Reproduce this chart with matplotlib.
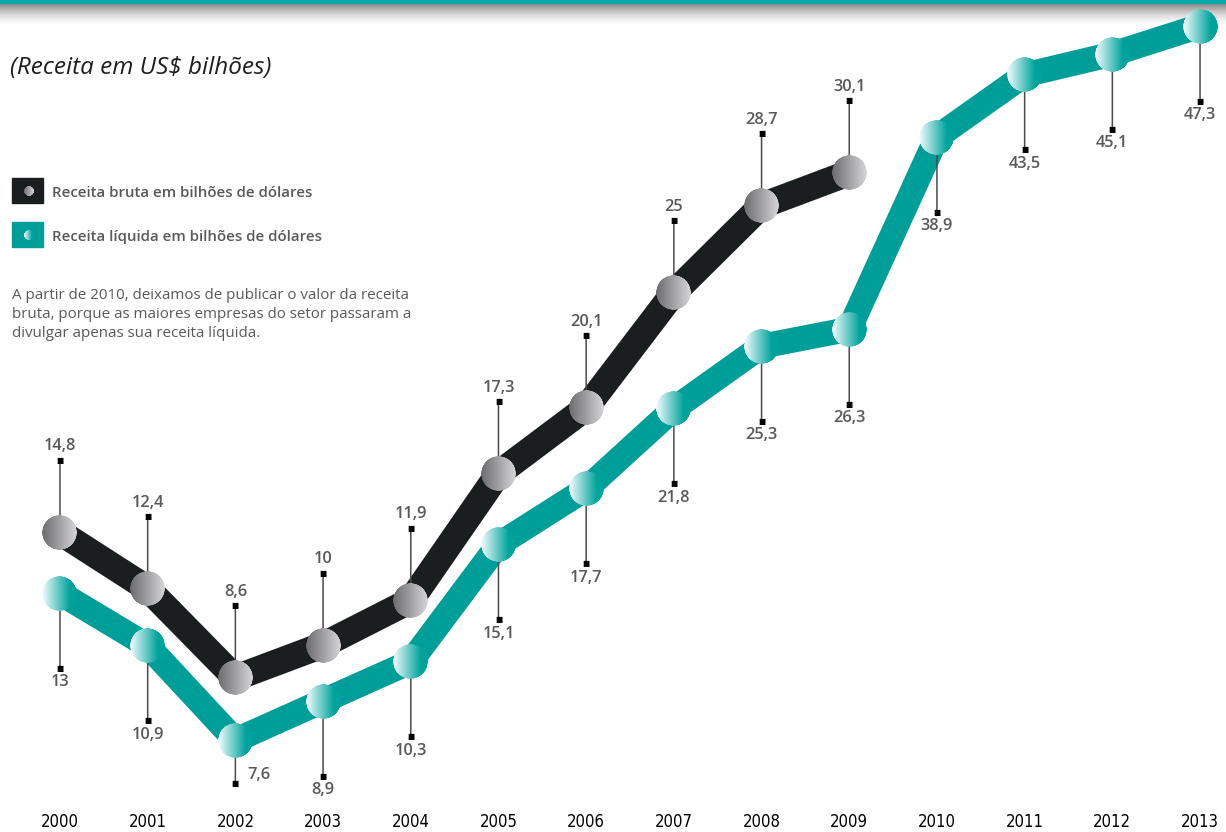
import numpy as np
import matplotlib.pyplot as plt
from matplotlib.colors import to_rgb
from matplotlib.offsetbox import OffsetImage, AnnotationBbox

# Receita bruta (até 2009) e líquida (até 2013), em US$ bilhões
anos_bruta = [2000, 2001, 2002, 2003, 2004, 2005, 2006, 2007, 2008, 2009]
receita_bruta = [14.8, 12.4, 8.6, 10, 11.9, 17.3, 20.1, 25, 28.7, 30.1]

anos_liquida = [2000, 2001, 2002, 2003, 2004, 2005, 2006, 2007, 2008, 2009,
                2010, 2011, 2012, 2013]
receita_liquida = [13, 10.9, 7.6, 8.9, 10.3, 15.1, 17.7, 21.8, 25.3, 26.3,
                   38.9, 43.5, 45.1, 47.3]

titulo = '(Receita em US$ bilhões)'
legenda_bruta = 'Receita bruta em bilhões de dólares'
legenda_liquida = 'Receita líquida em bilhões de dólares'
nota = ('A partir de 2010, deixamos de publicar o valor da receita\n'
        'bruta, porque as maiores empresas do setor passaram a\n'
        'divulgar apenas sua receita líquida.')

W, H = 1226, 832
COR_BRUTA = '#1b1e1f'
COR_LIQUIDA = '#009e99'
COR_TEXTO = '#58595b'
FONTE = ['Open Sans', 'DejaVu Sans']


def fx(px):
    return px / W


def fy(py):
    return 1 - py / H


def disco(c_esq, c_dir, n=140, fim=0.85):
    # circulo com degradê horizontal e borda suavizada
    xx, yy = np.meshgrid(np.linspace(-1, 1, n), np.linspace(-1, 1, n))
    t = np.clip((xx + 1) / (2 * fim), 0, 1)[..., None]
    rgb = np.array(to_rgb(c_esq)) * (1 - t) + np.array(to_rgb(c_dir)) * t
    alfa = np.clip((1 - np.hypot(xx, yy)) * n / 2, 0, 1)
    return np.dstack([rgb, alfa])


img_bruta = disco('#6c6c6f', '#d6d6d8', fim=1.0)
img_liquida = disco('#f4fcff', '#00a39c', fim=0.8)

fig = plt.figure(figsize=(W / 100, H / 100), dpi=100)


def bolinha(eixo, x, y, img, diam, coords='data'):
    zoom = diam / (img.shape[0] * fig.dpi / 72)
    ab = AnnotationBbox(OffsetImage(img, zoom=zoom), (x, y), xycoords=coords,
                        frameon=False, pad=0, zorder=5, annotation_clip=False)
    eixo.add_artist(ab)


def rotulo(eixo, x, v, dy, dx_txt=0, lado='center'):
    txt = f'{v:g}'.replace('.', ',')
    eixo.annotate('', xy=(x, v), xytext=(0, dy), textcoords='offset pixels',
                  arrowprops=dict(arrowstyle='-', color='#4a4a4a', lw=1.1,
                                  shrinkA=0, shrinkB=0), zorder=3)
    sinal = 1 if dy > 0 else -1
    eixo.annotate('\u25A0', xy=(x, v), xytext=(0, dy), textcoords='offset pixels',
                  ha='center', va='center', fontsize=5.5, color='black',
                  family='DejaVu Sans', zorder=4)
    if lado == 'center':
        eixo.annotate(txt, xy=(x, v), xytext=(0, dy + sinal * 6),
                      textcoords='offset pixels', ha='center',
                      va='bottom' if sinal > 0 else 'top', fontsize=11.8,
                      fontweight='semibold', color=COR_TEXTO, family=FONTE,
                      zorder=6)
    else:
        eixo.annotate(txt, xy=(x, v), xytext=(dx_txt, dy + 8),
                      textcoords='offset pixels', ha='left', va='center',
                      fontsize=11.8, fontweight='semibold', color=COR_TEXTO,
                      family=FONTE, zorder=6)


# faixa superior: linha verde com sombra cinza
faixa = fig.add_axes([0, fy(26), 1, 26 / H])
linhas = np.linspace(0, 1, 22)
cinza = 1 - 0.45 * (1 - linhas) ** 1.6
grad = np.vstack([np.tile(to_rgb('#0aa9a9'), (4, 1)),
                  np.column_stack([cinza, cinza, cinza])])[:, None, :]
faixa.imshow(grad, aspect='auto', interpolation='bilinear')
faixa.set_axis_off()

# eixo principal: receita líquida (escala raiz) e eixo gêmeo para a bruta
ax = fig.add_axes([0, 27 / H, 1, 805 / H])
ax.patch.set_visible(False)
ax.set_xlim(1999.316, 2013.296)
ax.set_yscale('function', functions=(np.sqrt, np.square))
ax.set_ylim(5.68, 49.39)

ax2 = ax.twinx()
ax2.set_ylim(3.19, 37.46)

for a in (ax, ax2):
    for s in a.spines.values():
        s.set_visible(False)
    a.set_yticks([])

ax.set_xticks(anos_liquida)
ax.set_xticklabels([str(a) for a in anos_liquida], family='DejaVu Sans',
                   fontstretch='condensed', fontweight='normal',
                   fontsize=12, color='#000000')
ax.tick_params(axis='x', length=0, pad=5.5)

# linha líquida
ax.plot(anos_liquida, receita_liquida, color=COR_LIQUIDA, lw=18,
        solid_capstyle='butt', solid_joinstyle='round', zorder=2)
for ano, v in zip(anos_liquida, receita_liquida):
    bolinha(ax, ano, v, img_liquida, 35)
    if ano == 2002:
        rotulo(ax, ano, v, -43, dx_txt=12, lado='left')
    else:
        rotulo(ax, ano, v, -75)

# linha bruta
ax2.plot(anos_bruta, receita_bruta, color=COR_BRUTA, lw=19,
         solid_capstyle='butt', solid_joinstyle='round', zorder=2)
for ano, v in zip(anos_bruta, receita_bruta):
    bolinha(ax2, ano, v, img_bruta, 35)
    rotulo(ax2, ano, v, 72)

# título e legenda
fig.text(fx(10), fy(68), titulo, style='italic', fontsize=17.5, color='#1d1d1b',
         va='center', family=FONTE)

fig.patches.append(plt.Rectangle((fx(12), fy(203)), 31 / W, 25 / H,
                                 transform=fig.transFigure, color=COR_BRUTA))
fig.patches.append(plt.Rectangle((fx(12), fy(247)), 31 / W, 25 / H,
                                 transform=fig.transFigure, color=COR_LIQUIDA))
bolinha(fig, 29, H - 191, img_bruta, 10, coords='figure pixels')
bolinha(fig, 29, H - 235, img_liquida, 10, coords='figure pixels')

fig.text(fx(52), fy(193), legenda_bruta, fontsize=10.8, fontweight='semibold',
         color=COR_TEXTO, va='center', family=FONTE)
fig.text(fx(52), fy(237), legenda_liquida, fontsize=10.8, fontweight='semibold',
         color=COR_TEXTO, va='center', family=FONTE)

fig.text(fx(12), fy(288), nota, fontsize=10.9, color=COR_TEXTO, va='top',
         linespacing=1.35, family=FONTE)

fig.savefig('out.png', dpi=100)
